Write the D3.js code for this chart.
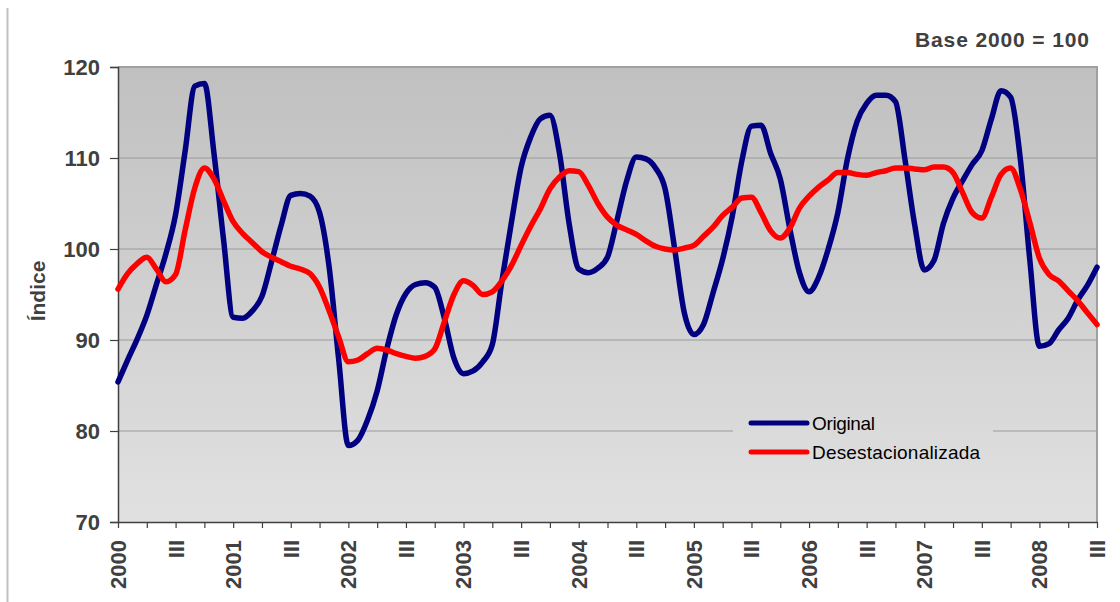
<!DOCTYPE html>
<html><head><meta charset="utf-8">
<script src="https://cdn.jsdelivr.net/npm/d3@7"></script>
<style>
html,body{margin:0;padding:0;background:#fff;}
svg{display:block;font-family:"Liberation Sans",Arial,sans-serif;}
</style></head>
<body>
<svg id="chart" width="1120" height="602"></svg>
<script>
// Monthly data, Jan 2000 .. Jul 2008 (103 months)
const startYear = 2000;
const nMonths = 103;
const original = [
 85.4,87.8,90.1,92.7,96.1,99.5,103.8,110.8,117.9,118.2,110.5,101.0,
 92.5,92.4,93.2,94.8,98.6,102.6,105.9,106.1,105.8,104.0,98.0,87.8,
 78.4,79.0,81.2,84.4,89.0,92.8,95.1,96.1,96.3,95.8,92.4,88.0,
 86.3,86.6,87.6,89.5,96.5,103.0,109.0,112.3,114.3,114.7,110.5,102.8,
 97.8,97.4,97.9,99.1,103.2,107.5,110.1,109.9,108.9,106.6,100.0,93.0,
 90.6,91.7,95.2,98.9,103.6,109.7,113.5,113.6,110.5,107.7,102.2,97.4,
 95.3,96.9,100.0,104.0,109.9,114.0,116.0,116.9,116.9,116.2,109.8,102.7,
 97.7,98.7,102.8,105.6,107.5,109.3,110.8,114.3,117.4,116.7,110.0,98.8,
 89.3,89.6,91.1,92.4,94.4,96.0,98.0
];
const desestacionalizada = [
 95.6,97.3,98.4,99.1,97.8,96.4,97.2,102.1,106.7,108.9,107.7,105.3,
 103.0,101.7,100.7,99.7,99.1,98.6,98.1,97.8,97.3,95.8,93.2,90.3,
 87.6,87.8,88.5,89.1,88.9,88.5,88.2,88.0,88.2,89.0,92.0,95.0,
 96.5,96.0,95.0,95.3,96.5,98.2,100.4,102.5,104.4,106.6,107.9,108.6,
 108.5,107.0,105.0,103.5,102.6,102.1,101.6,100.9,100.3,100.0,99.9,100.1,
 100.4,101.4,102.4,103.7,104.6,105.6,105.7,104.0,102.0,101.2,102.3,104.5,
 105.8,106.8,107.6,108.4,108.4,108.2,108.1,108.4,108.6,108.9,108.9,108.8,
 108.7,109.0,109.0,108.4,106.2,104.0,103.4,105.7,108.2,108.9,106.6,102.9,
 99.0,97.2,96.5,95.4,94.3,93.0,91.7
];
const yTicks = [70, 80, 90, 100, 110, 120];
const periodLabels = ["2000","III","2001","III","2002","III","2003","III","2004","III",
  "2005","III","2006","III","2007","III","2008","III"];
const seriesNames = ["Original", "Desestacionalizada"];
const seriesColors = ["#000080", "#ff0000"];

const months = d3.range(nMonths).map(i => `${startYear + Math.floor(i/12)}-${String(i%12+1).padStart(2,"0")}`);

const L = 118, R = 1097, T = 67, B = 522;
const svg = d3.select("#chart");
const x = d3.scaleLinear().domain([0, nMonths - 1]).range([L, R]);
const y = d3.scaleLinear().domain([70, 120]).range([B, T]);

// outer chart border (left edge)
svg.append("line").attr("x1", 7.5).attr("x2", 7.5).attr("y1", 8).attr("y2", 602)
  .attr("stroke", "#c0c0c0").attr("stroke-width", 2);

const defs = svg.append("defs");
const grad = defs.append("linearGradient").attr("id", "bg")
  .attr("gradientUnits", "userSpaceOnUse").attr("x1", 0).attr("x2", 0).attr("y1", T).attr("y2", B);
grad.append("stop").attr("offset", "0%").attr("stop-color", "#c0c0c0");
grad.append("stop").attr("offset", "100%").attr("stop-color", "#e1e1e1");

svg.append("rect").attr("x", L).attr("y", T).attr("width", R - L).attr("height", B - T)
  .attr("fill", "url(#bg)");

// gridlines
svg.append("g").selectAll("line").data(yTicks.filter(v => v > 70 && v < 120)).join("line")
  .attr("x1", L).attr("x2", R).attr("y1", d => y(d)).attr("y2", d => y(d))
  .attr("stroke", "#9a9a9a").attr("stroke-width", 1);

// border top/right
svg.append("path").attr("d", `M${L},${T}H${R}V${B}`).attr("fill", "none")
  .attr("stroke", "#a0a0a0").attr("stroke-width", 2);

// Y axis
const yAxis = d3.axisLeft(y).tickValues(yTicks).tickSize(8).tickPadding(10).tickFormat(d3.format("d"));
const gy = svg.append("g").attr("transform", `translate(${L},0)`).call(yAxis);
gy.select(".domain").attr("stroke", "#404040").attr("stroke-width", 1.5);
gy.selectAll(".tick line").attr("stroke", "#404040").attr("stroke-width", 1.2);
gy.selectAll(".tick text").attr("fill", "#404040").attr("font-size", 22).attr("font-weight", "bold")
  .attr("font-family", "Liberation Sans, Arial, sans-serif");

// X axis
const tickMonths = d3.range(0, nMonths, 3);
const xAxis = d3.axisBottom(x).tickValues(tickMonths).tickSize(6).tickSizeOuter(0).tickFormat("");
const gx = svg.append("g").attr("transform", `translate(0,${B})`).call(xAxis);
gx.select(".domain").attr("stroke", "#404040").attr("stroke-width", 1.5);
gx.selectAll(".tick line").attr("stroke", "#404040").attr("stroke-width", 1.2);

const labelMonths = d3.range(0, nMonths, 6);
svg.append("g").selectAll("text").data(labelMonths).join("text")
  .attr("transform", d => `translate(${x(d)},540) rotate(-90)`)
  .attr("text-anchor", "end").attr("dy", "0.36em")
  .attr("font-size", 22).attr("font-weight", "bold").attr("fill", "#404040")
  .text((d, i) => periodLabels[i]);

// Y axis title
svg.append("text").attr("transform", "translate(37,291) rotate(-90)")
  .attr("text-anchor", "middle").attr("dy", "0.36em")
  .attr("font-size", 21).attr("font-weight", "bold").attr("fill", "#404040").text("Índice");

// Base note
svg.append("text").attr("x", 1089).attr("y", 47).attr("text-anchor", "end")
  .attr("font-size", 21).attr("font-weight", "bold").attr("fill", "#404040")
  .attr("textLength", 174).attr("lengthAdjust", "spacing").text("Base 2000 = 100");

// Lines
const line = d3.line().x((d, i) => x(i)).y(d => y(d)).curve(d3.curveMonotoneX);
const seriesData = [original, desestacionalizada];
svg.append("g").selectAll("path").data(seriesData).join("path")
  .attr("d", d => line(d)).attr("fill", "none")
  .attr("stroke", (d, i) => seriesColors[i]).attr("stroke-width", 5.5)
  .attr("stroke-linejoin", "round").attr("stroke-linecap", "round");

// Legend
const lg = svg.append("g");
lg.append("rect").attr("x", 733).attr("y", 405).attr("width", 260).attr("height", 66).attr("fill", "url(#bg)");
const items = lg.selectAll("g").data(seriesNames).join("g")
  .attr("transform", (d, i) => `translate(0,${423 + i * 29})`);
items.append("line").attr("x1", 751).attr("x2", 807).attr("y1", 0).attr("y2", 0)
  .attr("stroke", (d, i) => seriesColors[i]).attr("stroke-width", 5).attr("stroke-linecap", "round");
items.append("text").attr("x", 812).attr("dy", "0.36em").attr("font-size", 19).attr("fill", "#000")
  .attr("textLength", (d, i) => i === 0 ? 63 : 168).attr("lengthAdjust", "spacing")
  .text(d => d);
</script>
</body></html>
